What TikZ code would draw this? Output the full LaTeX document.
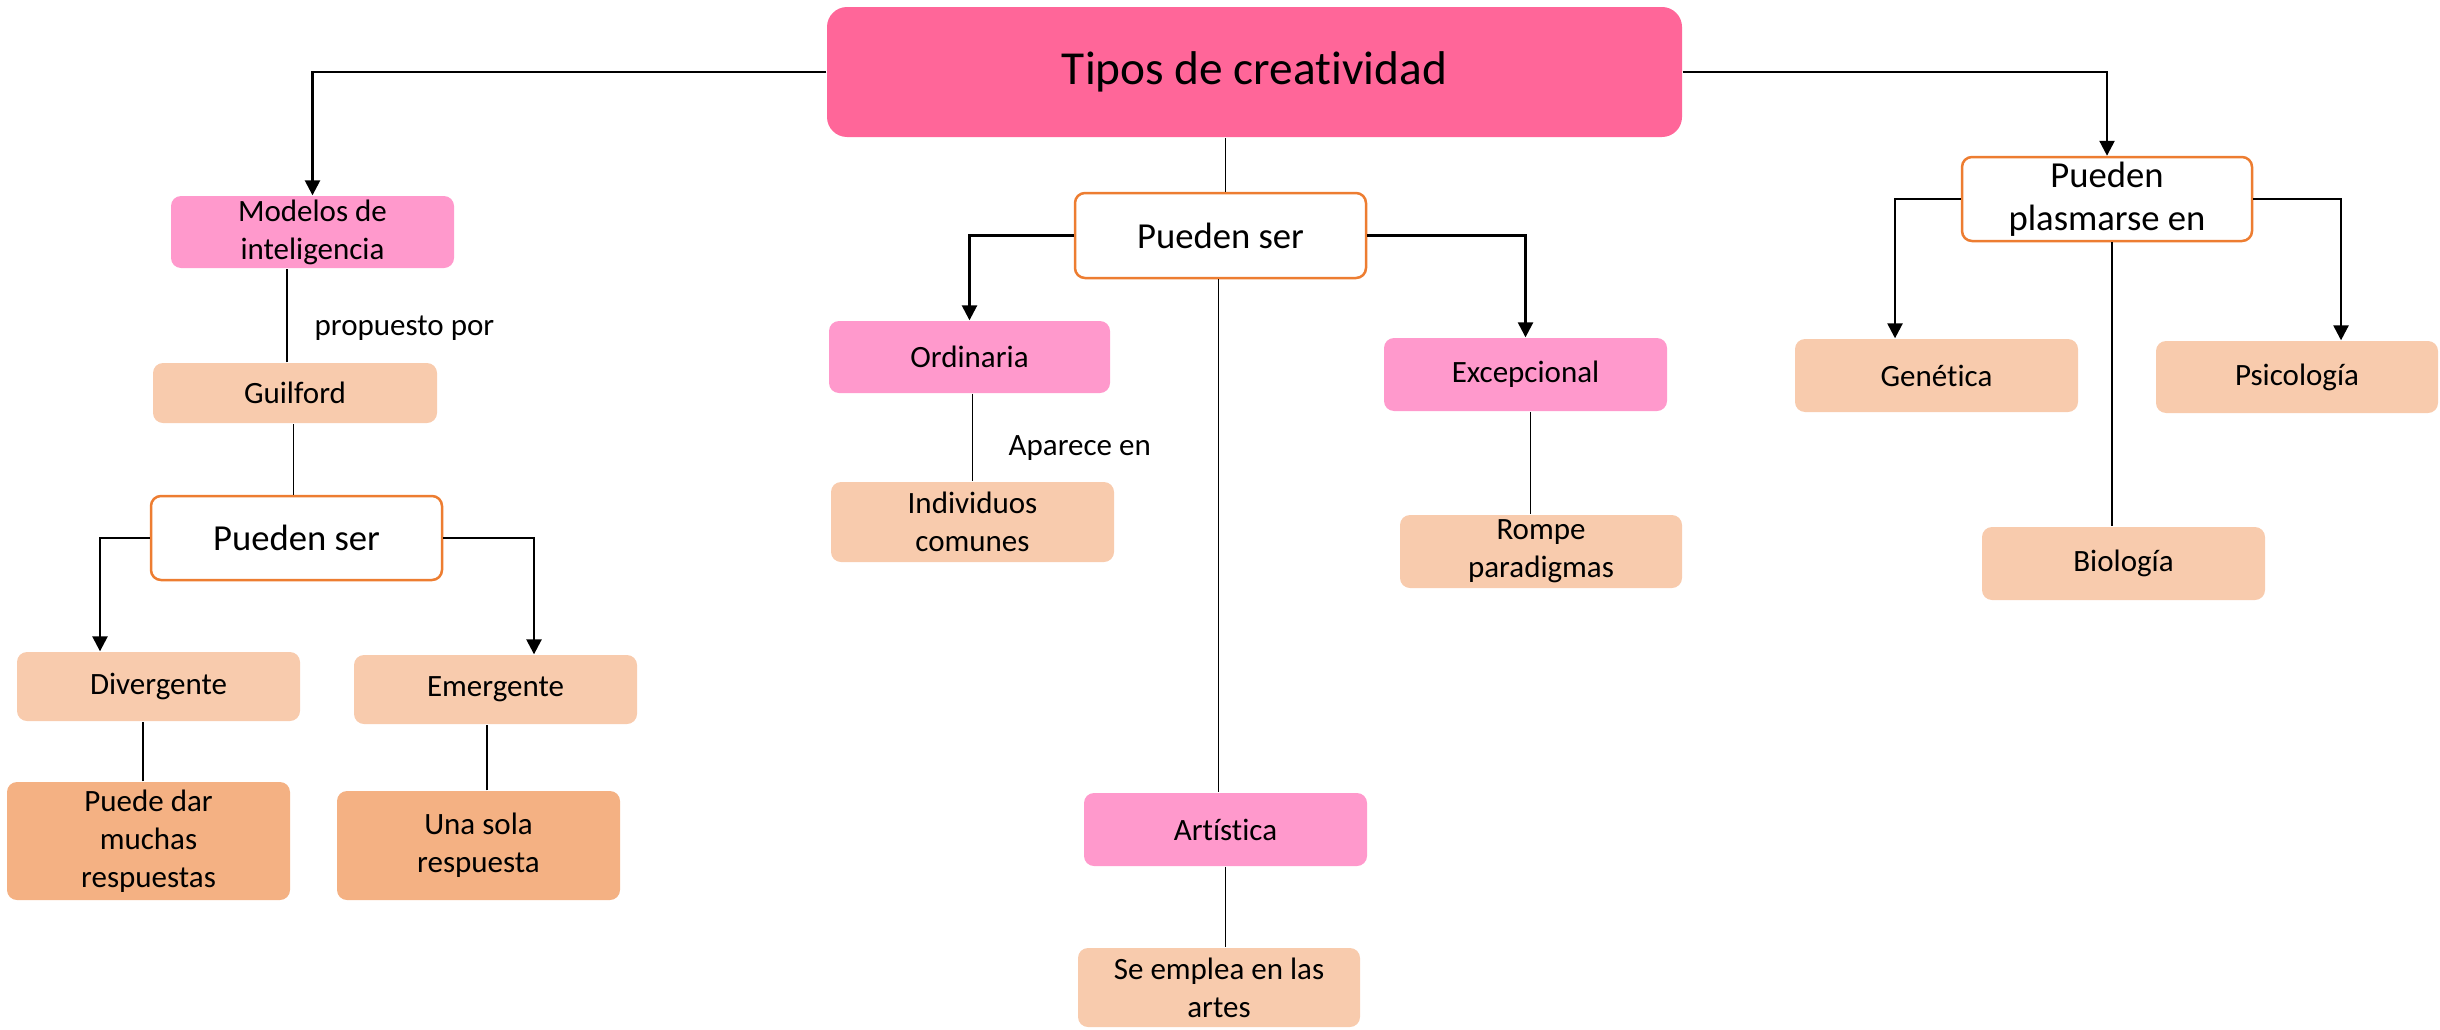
\documentclass[tikz,border=0pt]{standalone}
\usepackage{fontspec}
\setmainfont[Ligatures={NoCommon}]{Carlito}
\usetikzlibrary{arrows.meta}
\definecolor{titlepink}{HTML}{FF6699}
\definecolor{boxpink}{HTML}{FF99CC}
\definecolor{peach}{HTML}{F8CBAD}
\definecolor{apricot}{HTML}{F4B183}
\definecolor{borderorange}{HTML}{ED7D31}
\tikzset{
  box/.style={rounded corners=3pt, inner sep=0pt, align=center, font=\fontsize{9.3}{11.4}\selectfont},
  sz/.style 2 args={minimum width=#1*0.3pt, minimum height=#2*0.3pt},
  pinkbox/.style={box, fill=boxpink},
  peachbox/.style={box, fill=peach},
  apribox/.style={box, fill=apricot},
  outlinebox/.style={box, draw=borderorange, line width=0.75pt, fill=white, font=\fontsize{11}{12.9}\selectfont},
  titlebox/.style={rounded corners=6pt, inner sep=0pt, fill=titlepink, font=\fontsize{14.2}{17}\selectfont},
  arr/.style={line width=0.75pt, -{Triangle[length=4.5pt,width=4.5pt]}},
  thinline/.style={line width=0.35pt},
  lbl/.style={anchor=west, inner sep=0pt, font=\fontsize{9.3}{11.4}\selectfont}
}
\begin{document}
\begin{tikzpicture}[x=0.3pt, y=-0.3pt]
\useasboundingbox (0,0) rectangle (2440,1029);
% nodes
\node[titlebox, sz={855}{130}] (title) at (1254.5,72) {Tipos de creatividad};
\node[pinkbox, sz={283}{72}] (modelos) at (312.5,232) {Modelos de\\inteligencia};
\node[peachbox, sz={284}{60}] (guilford) at (295,393) {Guilford};
\node[outlinebox, sz={291}{84}] (puedenL) at (296.5,538) {Pueden ser};
\node[peachbox, sz={283}{69}] (divergente) at (158.5,686.5) {Divergente};
\node[peachbox, sz={283}{69}] (emergente) at (495.5,689.5) {Emergente};
\node[apribox, sz={283}{118}] (puededar) at (148.5,841) {Puede dar\\muchas\\respuestas};
\node[apribox, sz={283}{109}] (unasola) at (478.5,845.5) {Una sola\\respuesta};
\node[outlinebox, sz={291}{85}] (puedenC) at (1220.5,235.5) {Pueden ser};
\node[pinkbox, sz={281}{72}] (ordinaria) at (969.5,357) {Ordinaria};
\node[peachbox, sz={283}{80}] (individuos) at (972.5,522) {Individuos\\comunes};
\node[pinkbox, sz={283}{73}] (excepcional) at (1525.5,374.5) {Excepcional};
\node[peachbox, sz={282}{73}] (rompe) at (1541,551.5) {Rompe\\paradigmas};
\node[pinkbox, sz={283}{73}] (artistica) at (1225.5,829.5) {Artística};
\node[peachbox, sz={282}{79}] (seemplea) at (1219,987.5) {Se emplea en las\\artes};
\node[outlinebox, sz={290}{84}] (plasmarse) at (2107,199) {Pueden\\plasmarse en};
\node[peachbox, sz={283}{73}] (genetica) at (1936.5,375.5) {Genética};
\node[peachbox, sz={282}{72}] (psicologia) at (2297,377) {Psicología};
\node[peachbox, sz={283}{73}] (biologia) at (2123.5,563.5) {Biología};
\node[lbl] (propuesto) at (314,328) {propuesto por};
\node[lbl] (aparece) at (1008,448) {Aparece en};
% connectors
\draw[arr] (title.west) -| (modelos.north);
\draw[arr] (title.east) -| (plasmarse.north);
\draw[thinline] ([xshift=1.6pt]puedenC.north) -- ([xshift=1.6pt]puedenC.north |- title.south);
\draw[arr] (puedenC.west) -| (ordinaria.north);
\draw[arr] (puedenC.east) -| (excepcional.north);
\draw[thinline] ([xshift=-0.5pt]puedenC.south) -- ([xshift=-0.5pt]puedenC.south |- artistica.north);
\draw[thinline] ([xshift=1pt]ordinaria.south) -- ([xshift=1pt]ordinaria.south |- individuos.north);
\draw[thinline] ([xshift=1.4pt]excepcional.south) -- ([xshift=1.4pt]excepcional.south |- rompe.north);
\draw[thinline] (artistica.south) -- (artistica.south |- seemplea.north);
\draw[arr] (plasmarse.west) -| ([xshift=-12.45pt]genetica.north);
\draw[arr] (plasmarse.east) -| ([xshift=13.2pt]psicologia.north);
\draw[thinline] ([xshift=1.5pt]plasmarse.south) -- ([xshift=1.5pt]plasmarse.south |- biologia.north);
\draw[thinline] ([xshift=-2.4pt]guilford.north) -- ([xshift=-2.4pt]guilford.north |- modelos.south);
\draw[thinline] ([xshift=-1pt]puedenL.north) -- ([xshift=-1pt]puedenL.north |- guilford.south);
\draw[arr] (puedenL.west) -| ([xshift=-17.55pt]divergente.north);
\draw[arr] (puedenL.east) -| ([xshift=11.55pt]emergente.north);
\draw[thinline] ([xshift=-1.65pt]puededar.north) -- ([xshift=-1.65pt]puededar.north |- divergente.south);
\draw[thinline] ([xshift=2.55pt]unasola.north) -- ([xshift=2.55pt]unasola.north |- emergente.south);
\end{tikzpicture}
\end{document}
